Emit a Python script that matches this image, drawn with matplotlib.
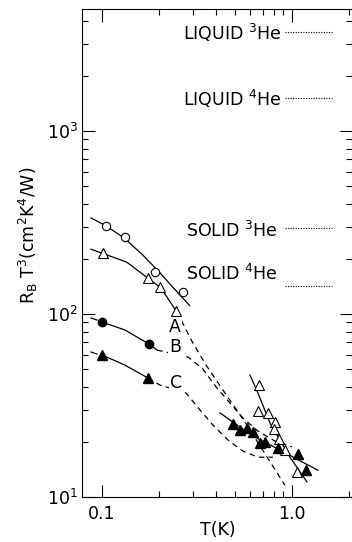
import matplotlib
matplotlib.use('Agg')
import matplotlib.pyplot as plt

plt.rcParams['font.family'] = ['DejaVu Sans']
plt.rcParams['mathtext.fontset'] = 'dejavusans'

# ---- data ----
# open circles
circ_T = [0.105, 0.132, 0.190, 0.267]
circ_R = [303, 264, 170, 132]
circ_fit_T = [0.0875, 0.105, 0.131, 0.164, 0.202, 0.236, 0.290]
circ_fit_R = [335, 303, 260, 210, 168, 140, 111]

# open triangles (low T)
otri_T = [0.101, 0.1745, 0.202, 0.245]
otri_R = [215, 157, 140, 104]
otri_fit_T = [0.0875, 0.1025, 0.135, 0.1745, 0.204, 0.248]
otri_fit_R = [226, 213, 192, 157, 139, 102.5]

# filled circles
fcirc_T = [0.100, 0.177]
fcirc_R = [90.4, 68.5]
fcirc_fit_T = [0.100, 0.132, 0.177, 0.195]
fcirc_fit_R = [90.4, 81.8, 68.5, 63.5]

# filled triangles (low T)
ftri_T = [0.100, 0.1745]
ftri_R = [59.7, 44.7]
ftri_fit_T = [0.100, 0.132, 0.1745]
ftri_fit_R = [59.7, 52.6, 44.7]

# short leading dashes
lead_T = [0.0875, 0.0941]
lead_fcirc_R = [95.1, 92.7]
lead_ftri_R = [62.0, 60.4]

# dashed theory curves A, B, C
A_T = [0.248, 0.301, 0.353, 0.433, 0.552, 0.712, 0.918]
A_R = [102.6, 69.4, 52.6, 38.4, 26.7, 17.6, 11.6]
B_T = [0.195, 0.2835, 0.336, 0.403, 0.472, 0.552, 0.662, 0.814, 1.0]
B_R = [63.5, 58.2, 50.7, 39.4, 32.6, 27.0, 22.9, 20.2, 18.8]
C_T = [0.1745, 0.202, 0.277, 0.328, 0.384, 0.460, 0.552, 0.662, 0.794]
C_R = [44.7, 40.9, 37.0, 29.9, 24.7, 20.5, 17.8, 16.5, 16.5]

# high-T open triangles
hotri_T = [0.670, 0.662, 0.748, 0.814, 0.804, 0.854, 0.919, 1.062]
hotri_R = [40.9, 29.5, 28.8, 25.7, 23.5, 20.7, 18.1, 13.7]
hotri_fit_T = [0.601, 0.662, 0.766, 0.976, 1.199]
hotri_fit_R = [46.4, 37.0, 25.4, 16.5, 12.1]

# high-T filled triangles
hftri_T = [0.489, 0.533, 0.580, 0.623, 0.679, 0.721, 0.844, 1.076, 1.185]
hftri_R = [25.1, 23.2, 23.8, 22.7, 19.7, 20.0, 18.5, 17.2, 14.0]
hftri_fit_T = [0.418, 0.533, 0.679, 0.865, 1.062, 1.370]
hftri_fit_R = [28.8, 24.1, 20.5, 18.1, 16.1, 14.0]

# reference levels (dotted)
ref_labels = ['LIQUID $^3$He', 'LIQUID $^4$He', 'SOLID $^3$He', 'SOLID $^4$He']
ref_R = [3475, 1514, 295, 142]
ref_T = [0.92, 1.62]

curve_labels = ['A', 'B', 'C']

# ---- figure ----
fig = plt.figure(figsize=(3.52, 5.42), dpi=100)
ax = fig.add_axes([82/352, 1-497/542, (352-82)/352, (497-9)/542])
ax.set_xscale('log')
ax.set_yscale('log')
ax.set_xlim(0.0785, 2.07)
ax.set_ylim(10, 4640)

lw = 0.9
k = 'black'
dash = (0, (4.5, 3.5))

ax.plot(circ_fit_T, circ_fit_R, color=k, lw=lw)
ax.plot(otri_fit_T, otri_fit_R, color=k, lw=lw)
ax.plot(fcirc_fit_T, fcirc_fit_R, color=k, lw=lw)
ax.plot(ftri_fit_T, ftri_fit_R, color=k, lw=lw)
ax.plot(lead_T, lead_fcirc_R, color=k, lw=lw)
ax.plot(lead_T, lead_ftri_R, color=k, lw=lw)
ax.plot(hotri_fit_T, hotri_fit_R, color=k, lw=lw)
ax.plot(hftri_fit_T, hftri_fit_R, color=k, lw=lw)

ax.plot(A_T, A_R, color=k, lw=lw, ls=dash)
ax.plot(B_T, B_R, color=k, lw=lw, ls=dash)
ax.plot(C_T, C_R, color=k, lw=lw, ls=dash)

ax.plot(circ_T, circ_R, 'o', ms=6, mfc='white', mec=k, mew=0.8, zorder=5)
ax.plot(otri_T, otri_R, '^', ms=7.5, mfc='white', mec=k, mew=0.8, zorder=5)
ax.plot(fcirc_T, fcirc_R, 'o', ms=6, mfc=k, mec=k, zorder=5)
ax.plot(ftri_T, ftri_R, '^', ms=7, mfc=k, mec=k, zorder=5)
ax.plot(hotri_T, hotri_R, '^', ms=7.5, mfc='white', mec=k, mew=0.8, zorder=5)
ax.plot(hftri_T, hftri_R, '^', ms=7.5, mfc=k, mec=k, zorder=6)

# curve labels
fs = 12.5
for lab, (t, r) in zip(curve_labels, [(0.242, 84.9), (0.242, 66.0), (0.245, 42.0)]):
    ax.text(t, r, lab, fontsize=fs, ha='center', va='center', zorder=7,
            bbox=dict(facecolor='white', edgecolor='none', pad=0.5))

# reference levels
text_pos = [(0.886, 3143), (0.886, 1369), (0.844, 263.6), (0.844, 153.4)]
for lab, r, (t, rb) in zip(ref_labels, ref_R, text_pos):
    ax.plot(ref_T, [r, r], color=k, lw=0.8, ls=(0, (1, 1.3)))
    ax.text(t, rb, lab, fontsize=fs, ha='right', va='baseline')

# ticks
ax.set_xticks([0.1, 1.0])
ax.set_xticklabels(['0.1', '1.0'])
ax.set_xticks([0.2, 0.3, 0.4, 0.5, 0.6, 0.7, 0.8, 0.9, 2.0], minor=True)
ax.set_xticklabels([], minor=True)
ax.set_yticks([10, 100, 1000])
ax.set_yticklabels(['$10^1$', '$10^2$', '$10^3$'])
ax.set_yticks([20, 30, 40, 50, 60, 70, 80, 90, 200, 300, 400, 500, 600, 700,
               800, 900, 2000, 3000, 4000], minor=True)
ax.set_yticklabels([], minor=True)
ax.tick_params(which='both', direction='in', top=True, right=True,
               width=0.8, labelsize=fs)
ax.tick_params(which='major', length=9)
ax.tick_params(which='minor', length=4.5)
ax.tick_params(axis='x', which='major', pad=6)
ax.tick_params(axis='y', which='major', pad=3)
for s in ax.spines.values():
    s.set_linewidth(0.8)
ax.spines['right'].set_visible(False)

fig.text(28/352, 1-235/542, r'R$_\mathrm{B}$ T$^3$(cm$^2$K$^4$/W)', rotation=90,
         ha='center', va='center', fontsize=fs)
fig.text(218/352, 1-530/542, 'T(K)', ha='center', va='center', fontsize=fs)

fig.savefig('out.png', dpi=100, facecolor='white')
